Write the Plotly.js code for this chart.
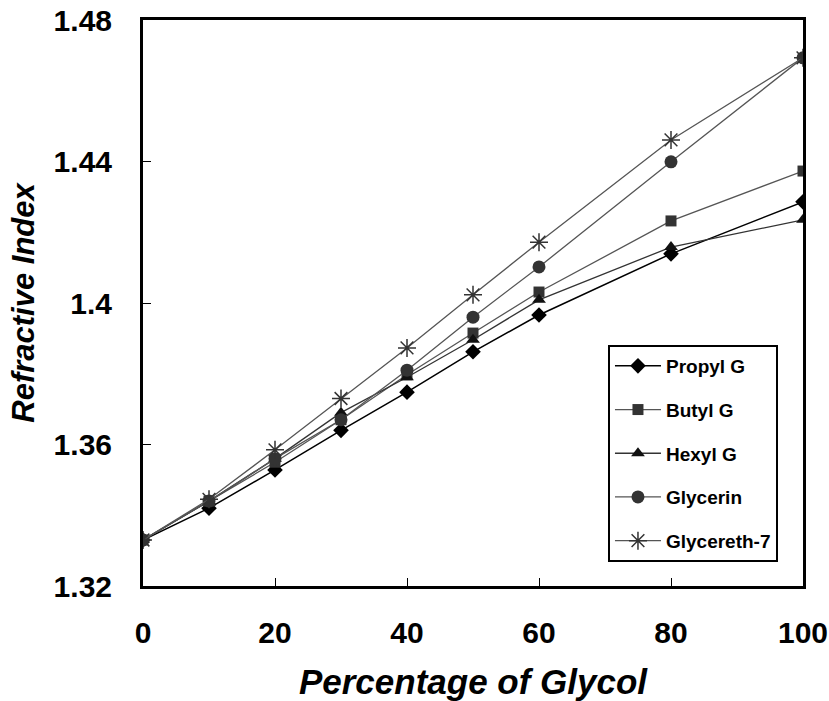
<!DOCTYPE html>
<html>
<head>
<meta charset="utf-8">
<script src="https://cdn.plot.ly/plotly-3.0.1.min.js"></script>
<style>html,body{margin:0;padding:0;background:#fff;}#chart{width:829px;height:701px;}</style>
</head>
<body>
<div id="chart"></div>
<script>
var percent = [0, 10, 20, 30, 40, 50, 60, 80, 100];
var propylG = [1.333, 1.342, 1.3528, 1.364, 1.3748, 1.3862, 1.3966, 1.4139, 1.4286];
var butylG = [1.333, 1.344, 1.355, 1.367, 1.3797, 1.3915, 1.4031, 1.4232, 1.4373];
var hexylG = [1.333, 1.344, 1.356, 1.369, 1.379, 1.3896, 1.4009, 1.4158, 1.4235];
var glycerin = [1.333, 1.344, 1.356, 1.367, 1.381, 1.396, 1.4102, 1.4399, 1.4693];
var glycereth7 = [1.333, 1.3445, 1.3585, 1.373, 1.3873, 1.4023, 1.4172, 1.4461, 1.4693];
var seriesNames = ["Propyl G", "Butyl G", "Hexyl G", "Glycerin", "Glycereth-7"];
var yTickVals = [1.32, 1.36, 1.40, 1.44, 1.48];
var yTickText = ["1.32", "1.36", "1.4", "1.44", "1.48"];
var xTickVals = [0, 20, 40, 60, 80, 100];

var styles = [
  {sym: "diamond", size: 12, color: "#000", line: "#000", lw: 1.5},
  {sym: "square", size: 11, color: "#333", line: "#555", lw: 1.3},
  {sym: "triangle-up", size: 12, color: "#111", line: "#333", lw: 1.3},
  {sym: "circle", size: 13, color: "#333", line: "#555", lw: 1.3},
  {sym: "asterisk-open", size: 15, color: "#333", line: "#555", lw: 1.3}
];
var ys = [propylG, butylG, hexylG, glycerin, glycereth7];
var traces = ys.map(function (y, i) {
  var s = styles[i];
  return {
    x: percent, y: y, name: seriesNames[i], type: "scatter", mode: "lines+markers",
    legendgroup: "g" + i,
    line: {color: s.line, width: s.lw},
    marker: {symbol: s.sym, size: s.size, color: s.color,
      line: {color: s.color, width: s.sym === "asterisk-open" ? 1.5 : 0}}
  };
});

var layout = {
  width: 829, height: 701,
  margin: {l: 143, r: 26, t: 20, b: 115},
  paper_bgcolor: "#fff", plot_bgcolor: "#fff",
  font: {family: "Liberation Sans, Arial, sans-serif", color: "#000"},
  showlegend: true,
  legend: {
    x: 0.7045, y: 0.4258, xanchor: "left", yanchor: "top",
    bordercolor: "#000", borderwidth: 2, bgcolor: "#fff",
    font: {size: 19, family: "Liberation Sans, Arial, sans-serif", weight: "bold", color: "#000"},
    tracegroupgap: 16, traceorder: "grouped", itemwidth: 46
  },
  xaxis: {
    range: [0, 100], tickvals: xTickVals, ticks: "inside", ticklen: 8, tickwidth: 1, tickcolor: "#000",
    showline: true, linecolor: "#000", linewidth: 3, mirror: true, showgrid: false, zeroline: false,
    tickfont: {size: 30, weight: "bold"}, ticklabelstandoff: 18,
    title: {text: "<b><i>Percentage of Glycol</i></b>", font: {size: 35}, standoff: 30}
  },
  yaxis: {
    range: [1.32, 1.48], tickvals: yTickVals, ticktext: yTickText, ticks: "inside", ticklen: 8, tickwidth: 1, tickcolor: "#000",
    showline: true, linecolor: "#000", linewidth: 3, mirror: true, showgrid: false, zeroline: false,
    tickfont: {size: 30, weight: "bold"}, ticklabelstandoff: 22,
    title: {text: "<b><i>Refractive Index</i></b>", font: {size: 31}, standoff: 10}
  }
};
Plotly.newPlot("chart", traces, layout, {displayModeBar: false, staticPlot: true});
</script>
</body>
</html>
